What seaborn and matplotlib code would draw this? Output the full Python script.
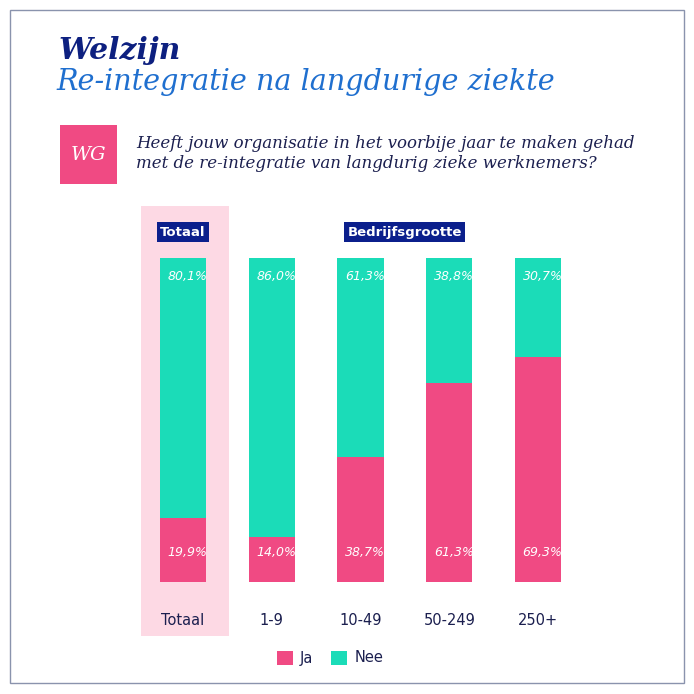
import pandas as pd
import matplotlib.pyplot as plt
import seaborn as sns
from matplotlib.patches import Rectangle, Patch

# Data
groups = ["Totaal", "1-9", "10-49", "50-249", "250+"]
ja = [19.9, 14.0, 38.7, 61.3, 69.3]
nee = [80.1, 86.0, 61.3, 38.8, 30.7]

PINK = "#f04a83"
TEAL = "#1bdcb8"
HILITE = "#fdd9e4"
NAVY = "#0b1f8c"
TITLE_NAVY = "#0d2080"
BLUE = "#1f6fcf"
TEXT = "#1b1f4f"

sns.set_theme(style="white")
plt.rcParams['font.family'] = ['DejaVu Sans']

df = pd.DataFrame({'groep': groups, 'Ja': ja, 'Nee': nee})
df['stapel'] = df['Ja'] + df['Nee']

fig = plt.figure(figsize=(6.94, 6.94), dpi=100)
W = H = 694.0


def fx(px):
    return px / W


def fy(py):
    return 1 - py / H


# outer frame
fig.patches.append(Rectangle((fx(10), fy(683)), fx(674), (683 - 10) / H,
                             transform=fig.transFigure, fill=False,
                             edgecolor="#8a93ad", lw=1.0))

# titles
fig.text(fx(58), fy(59), "Welzijn", family="DejaVu Serif", style="italic",
         weight="bold", fontsize=21.5, color=TITLE_NAVY, va="baseline")
fig.text(fx(56), fy(90), "Re-integratie na langdurige ziekte", family="DejaVu Serif",
         style="italic", fontsize=20.6, color=BLUE, va="baseline")

# WG badge
fig.patches.append(Rectangle((fx(60), fy(184)), fx(57), (184 - 125) / H,
                             transform=fig.transFigure, facecolor=PINK, edgecolor="none"))
fig.text(fx(88.5), fy(155), "WG", family="DejaVu Serif", style="italic",
         fontsize=14, color="white", ha="center", va="center")

question = ["Heeft jouw organisatie in het voorbije jaar te maken gehad",
            "met de re-integratie van langdurig zieke werknemers?"]
for k, line in enumerate(question):
    fig.text(fx(136), fy(148 + 19.5 * k), line, family="DejaVu Serif", style="italic",
             fontsize=12, color=TEXT, va="baseline")

# chart area
left = 138.6
right = 582.4
ax = fig.add_axes([fx(left), fy(582), (right - left) / W, (582 - 258) / H])
ax.set_facecolor("none")

# highlight behind Totaal
ax.add_patch(Rectangle((-0.473, -16.7), 0.99, 116.0 + 16.7, facecolor=HILITE,
                       edgecolor="none", clip_on=False, zorder=0))

sns.barplot(data=df, x='groep', y='stapel', color=TEAL, width=0.52, saturation=1,
            errorbar=None, linewidth=0, ax=ax, zorder=2)
sns.barplot(data=df, x='groep', y='Ja', color=PINK, width=0.52, saturation=1,
            errorbar=None, linewidth=0, ax=ax, zorder=3)

for i, (j, n) in enumerate(zip(ja, nee)):
    ax.text(i + 0.05, j + n - 5.8, f"{n:.1f}%".replace('.', ','), color="white",
            style="italic", fontsize=9, ha="center", va="center", zorder=4)
    ax.text(i + 0.05, 9, f"{j:.1f}%".replace('.', ','), color="white",
            style="italic", fontsize=9, ha="center", va="center", zorder=4)

# group headers
ax.text(0, 108, "Totaal", color="white", weight="bold", fontsize=9.5,
        ha="center", va="center", clip_on=False,
        bbox=dict(boxstyle="square,pad=0.25", facecolor=NAVY, edgecolor="none"))
ax.text(2.5, 108, "Bedrijfsgrootte", color="white", weight="bold", fontsize=9.5,
        ha="center", va="center", clip_on=False,
        bbox=dict(boxstyle="square,pad=0.25", facecolor=NAVY, edgecolor="none"))

ax.set_xlim(-0.5, 4.5)
ax.set_ylim(0, 100)
ax.set_xlabel("")
ax.set_ylabel("")
ax.set_yticks([])
ax.tick_params(axis='x', length=0, pad=22, labelsize=10.5, labelcolor=TEXT)
sns.despine(ax=ax, left=True, bottom=True)

# legend
handles = [Patch(facecolor=PINK, edgecolor="none", label="Ja"),
           Patch(facecolor=TEAL, edgecolor="none", label="Nee")]
fig.legend(handles=handles, loc="center", bbox_to_anchor=(fx(330), fy(658)),
           ncol=2, frameon=False, fontsize=10.5, handlelength=1.1, handleheight=1.1,
           handletextpad=0.5, columnspacing=1.2, labelcolor=TEXT)

fig.savefig("out.png", dpi=100)
